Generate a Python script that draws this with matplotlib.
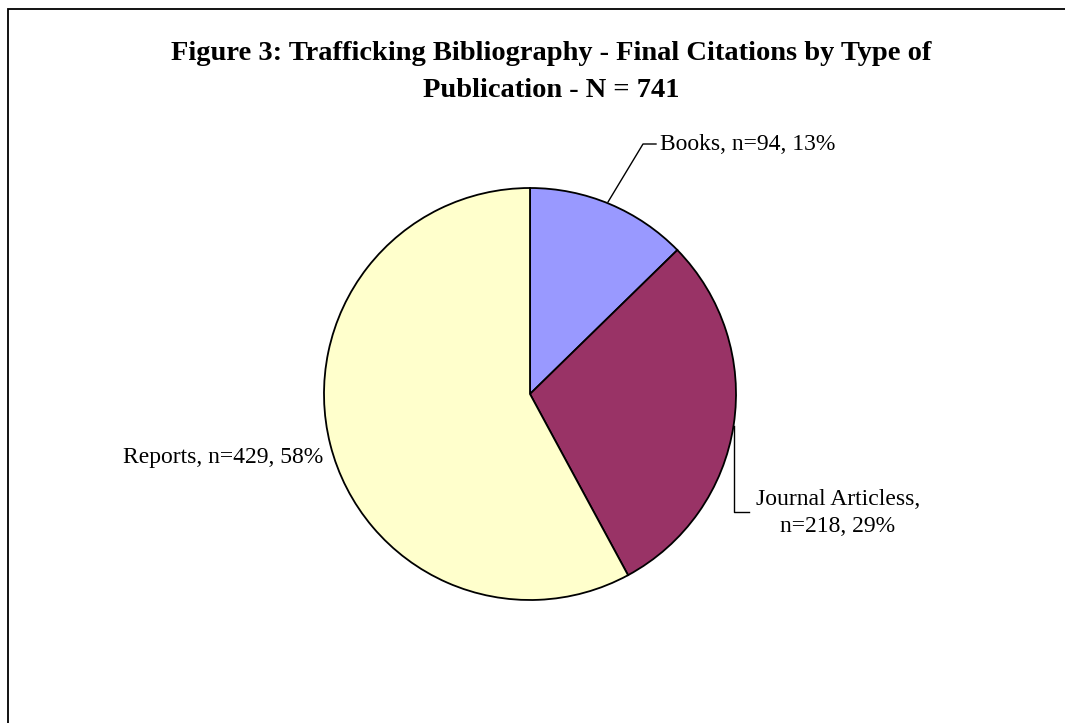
import matplotlib
matplotlib.use("Agg")
from matplotlib import pyplot as plt
from matplotlib.patches import Rectangle

W, H = 1065, 723

labels = ["Books", "Journal Articless", "Reports"]
counts = [94, 218, 429]
percents = [13, 29, 58]
colors = ["#9999FF", "#993366", "#FFFFCC"]
title = "Figure 3: Trafficking Bibliography - Final Citations by Type of\nPublication - N = 741"

plt.rcParams['font.family'] = ['Liberation Serif', 'DejaVu Serif']

fig = plt.figure(figsize=(W / 100, H / 100), dpi=100)
ax = fig.add_axes([0, 0, 1, 1])

# pie in pixel coords (y flipped)
cx, cy, r = 530, H - 394, 206
wedges, _ = ax.pie(counts, colors=colors, startangle=90, counterclock=False,
                   center=(cx, cy), radius=r,
                   wedgeprops=dict(edgecolor="black", linewidth=1.3))

ax.set_xlim(0, W)
ax.set_ylim(0, H)
ax.set_aspect('equal')
ax.axis('off')

# chart border
ax.add_patch(Rectangle((7.5, -20), W + 20, H - 9 + 20, fill=False,
                       edgecolor="black", linewidth=1.3, clip_on=False))

ax.text(551, H - 72, title, ha='center', va='center', fontsize=20.5,
        fontweight='bold', linespacing=1.6)

fs = 17
# Books
ax.plot([608, 643, 656], [H - 202, H - 144, H - 144], color='black', lw=1)
ax.text(660, H - 145, f"{labels[0]}, n={counts[0]}, {percents[0]}%",
        ha='left', va='center', fontsize=fs)

# Journal articles
ax.plot([734, 734, 749], [H - 426, H - 512, H - 512], color='black', lw=1)
ax.text(838, H - 513, f"{labels[1]},\nn={counts[1]}, {percents[1]}%",
        ha='center', va='center', fontsize=fs, linespacing=1.4)

# Reports
ax.text(323, H - 457, f"{labels[2]}, n={counts[2]}, {percents[2]}%",
        ha='right', va='center', fontsize=fs)

fig.savefig("out.png", dpi=100)
